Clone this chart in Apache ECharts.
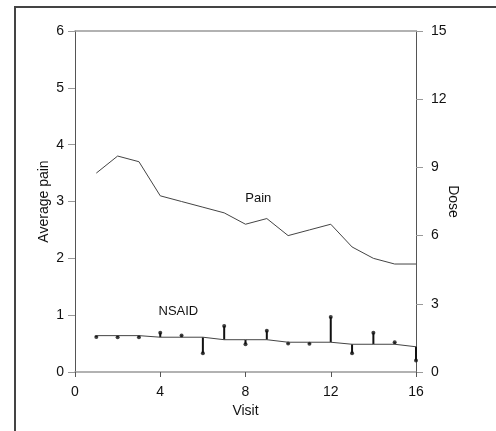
<!DOCTYPE html>
<html>
<head>
<meta charset="utf-8">
<script src="https://cdn.jsdelivr.net/npm/echarts@6/dist/echarts.min.js"></script>
<style>
  html, body { margin: 0; padding: 0; background: #fff; }
  #main { width: 496px; height: 431px; }
</style>
</head>
<body>
<div id="main"></div>
<script>
// visits 1..16
var visits = [1, 2, 3, 4, 5, 6, 7, 8, 9, 10, 11, 12, 13, 14, 15, 16];
// average pain (left axis)
var painValues = [3.5, 3.8, 3.7, 3.1, 3.0, 2.9, 2.8, 2.6, 2.7, 2.4, 2.5, 2.6, 2.2, 2.0, 1.9, 1.9];
// NSAID dose observed (right axis)
var nsaidDose = [1.54, 1.53, 1.53, 1.73, 1.61, 0.82, 2.02, 1.22, 1.82, 1.25, 1.24, 2.42, 0.82, 1.73, 1.31, 0.51];
// NSAID fitted trend (right axis)
var nsaidTrend = [1.6, 1.6, 1.6, 1.53, 1.53, 1.53, 1.42, 1.42, 1.42, 1.31, 1.31, 1.31, 1.22, 1.22, 1.22, 1.11];

var xTicks = [0, 4, 8, 12, 16];
var painTicks = [0, 1, 2, 3, 4, 5, 6];
var doseTicks = [0, 3, 6, 9, 12, 15];

var font = 'Liberation Sans, Arial, sans-serif';
var txt = '#111';

var painData = [], nsaidData = [], trendData = [], stemData = [];
for (var i = 0; i < visits.length; i++) {
    painData.push([visits[i], painValues[i]]);
    nsaidData.push([visits[i], nsaidDose[i]]);
    trendData.push([visits[i], nsaidTrend[i]]);
    stemData.push([visits[i], nsaidDose[i], nsaidTrend[i]]);
}

var myChart = echarts.init(document.getElementById('main'));

var option = {
    backgroundColor: '#fff',
    animation: false,
    textStyle: { fontFamily: font },
    grid: { left: 75, right: 80, top: 31, bottom: 59, containLabel: false },
    graphic: [
        {
            type: 'rect',
            shape: { x: 15, y: 7, width: 600, height: 600 },
            style: { fill: 'none', stroke: '#444', lineWidth: 2 },
            silent: true
        }
    ],
    xAxis: [
        {
            type: 'value',
            min: xTicks[0],
            max: xTicks[xTicks.length - 1],
            interval: 4,
            name: 'Visit',
            nameLocation: 'middle',
            nameGap: 32,
            nameTextStyle: { color: txt, fontSize: 14, fontFamily: font },
            axisLine: { onZero: false, lineStyle: { color: '#999', width: 1.5 } },
            axisTick: { show: true, length: 5, lineStyle: { color: '#555' } },
            axisLabel: { color: txt, fontSize: 14, margin: 13, fontFamily: font },
            splitLine: { show: false }
        },
        {
            type: 'value',
            position: 'top',
            min: 0,
            max: 16,
            interval: 4,
            axisLine: { onZero: false, lineStyle: { color: '#999', width: 1.5 } },
            axisTick: { show: false },
            axisLabel: { show: false },
            splitLine: { show: false }
        }
    ],
    yAxis: [
        {
            type: 'value',
            min: painTicks[0],
            max: painTicks[painTicks.length - 1],
            interval: 1,
            name: 'Average pain',
            nameLocation: 'middle',
            nameGap: 24,
            nameMoveOverlap: false,
            nameTextStyle: { color: txt, fontSize: 14, fontFamily: font },
            axisLine: { show: true, onZero: false, lineStyle: { color: '#555', width: 1 } },
            axisTick: { show: true, length: 7, lineStyle: { color: '#999' } },
            axisLabel: { color: txt, fontSize: 14, margin: 11, fontFamily: font },
            splitLine: { show: false }
        },
        {
            type: 'value',
            position: 'right',
            min: doseTicks[0],
            max: doseTicks[doseTicks.length - 1],
            interval: 3,
            name: 'Dose',
            nameLocation: 'middle',
            nameGap: 30,
            nameRotate: -90,
            nameMoveOverlap: false,
            nameTextStyle: { color: txt, fontSize: 14, fontFamily: font },
            axisLine: { show: true, onZero: false, lineStyle: { color: '#555', width: 1 } },
            axisTick: { show: true, length: 7, lineStyle: { color: '#999' } },
            axisLabel: { color: txt, fontSize: 14, margin: 15, fontFamily: font },
            splitLine: { show: false }
        }
    ],
    series: [
        {
            name: 'Pain',
            type: 'line',
            xAxisIndex: 0,
            yAxisIndex: 0,
            data: painData,
            showSymbol: false,
            lineStyle: { color: '#444', width: 1 },
            silent: true,
            markPoint: {
                symbol: 'circle',
                symbolSize: 0,
                data: [{ coord: [8.6, 3.06], value: 'Pain' }],
                label: { show: true, position: 'inside', formatter: 'Pain', color: txt, fontSize: 13, fontFamily: font }
            }
        },
        {
            name: 'NSAID trend',
            type: 'line',
            xAxisIndex: 0,
            yAxisIndex: 1,
            data: trendData,
            showSymbol: false,
            lineStyle: { color: '#444', width: 1 },
            silent: true,
            markPoint: {
                symbol: 'circle',
                symbolSize: 0,
                data: [{ coord: [4.85, 2.68], value: 'NSAID' }],
                label: { show: true, position: 'inside', formatter: 'NSAID', color: txt, fontSize: 13, fontFamily: font }
            }
        },
        {
            name: 'NSAID stems',
            type: 'custom',
            xAxisIndex: 0,
            yAxisIndex: 1,
            data: stemData,
            silent: true,
            renderItem: function (params, api) {
                var p1 = api.coord([api.value(0), api.value(1)]);
                var p2 = api.coord([api.value(0), api.value(2)]);
                return {
                    type: 'line',
                    shape: { x1: p1[0], y1: p1[1], x2: p2[0], y2: p2[1] },
                    style: { stroke: '#111', lineWidth: 2 }
                };
            }
        },
        {
            name: 'NSAID',
            type: 'scatter',
            xAxisIndex: 0,
            yAxisIndex: 1,
            data: nsaidData,
            symbol: 'circle',
            symbolSize: 4,
            itemStyle: { color: '#111' },
            silent: true
        }
    ]
};

myChart.setOption(option);
</script>
</body>
</html>
